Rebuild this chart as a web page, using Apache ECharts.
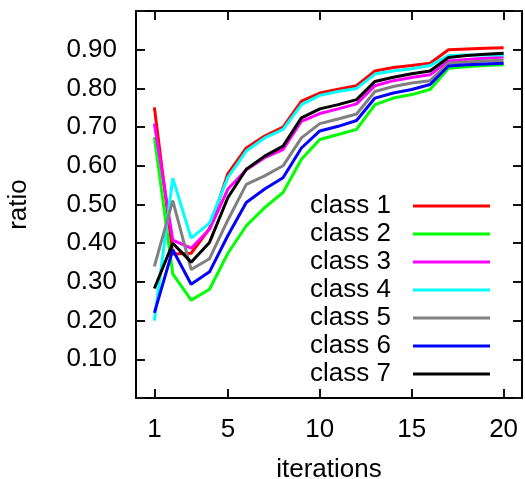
<!DOCTYPE html>
<html>
<head>
<meta charset="utf-8">
<script src="https://cdn.jsdelivr.net/npm/echarts@6/dist/echarts.min.js"></script>
<style>
  html, body { margin: 0; padding: 0; background: #fff; }
  #chart { width: 525px; height: 479px; }
</style>
</head>
<body>
<div id="chart"></div>
<script>
// x axis slots 0..21, points sit on 1..20
const xSlots = ['0', '1', '2', '3', '4', '5', '6', '7', '8', '9', '10', '11', '12', '13', '14', '15', '16', '17', '18', '19', '20', '21'];
const iterations = [1, 2, 3, 4, 5, 6, 7, 8, 9, 10, 11, 12, 13, 14, 15, 16, 17, 18, 19, 20];
const xTicks = [1, 5, 10, 15, 20];

const class1 = [0.751, 0.372, 0.374, 0.438, 0.580, 0.646, 0.677, 0.700, 0.767, 0.788, 0.798, 0.807, 0.845, 0.854, 0.859, 0.865, 0.900, 0.902, 0.904, 0.905];
const class2 = [0.674, 0.321, 0.253, 0.281, 0.374, 0.445, 0.492, 0.531, 0.617, 0.668, 0.681, 0.694, 0.758, 0.775, 0.784, 0.797, 0.852, 0.856, 0.859, 0.861];
const class3 = [0.709, 0.408, 0.387, 0.436, 0.540, 0.590, 0.621, 0.642, 0.715, 0.735, 0.747, 0.760, 0.807, 0.820, 0.828, 0.835, 0.871, 0.875, 0.878, 0.881];
const class4 = [0.200, 0.568, 0.413, 0.452, 0.570, 0.638, 0.672, 0.694, 0.758, 0.782, 0.792, 0.800, 0.837, 0.845, 0.851, 0.859, 0.885, 0.886, 0.886, 0.886];
const class5 = [0.340, 0.510, 0.332, 0.360, 0.460, 0.552, 0.574, 0.600, 0.672, 0.709, 0.721, 0.734, 0.792, 0.805, 0.814, 0.820, 0.865, 0.868, 0.871, 0.873];
const class6 = [0.220, 0.383, 0.294, 0.326, 0.420, 0.505, 0.540, 0.569, 0.646, 0.690, 0.702, 0.717, 0.775, 0.788, 0.797, 0.810, 0.858, 0.861, 0.863, 0.865];
const class7 = [0.283, 0.400, 0.351, 0.402, 0.518, 0.591, 0.625, 0.651, 0.724, 0.747, 0.758, 0.771, 0.818, 0.829, 0.838, 0.845, 0.880, 0.885, 0.888, 0.891];

const names = ['class 1', 'class 2', 'class 3', 'class 4', 'class 5', 'class 6', 'class 7'];
const values = [class1, class2, class3, class4, class5, class6, class7];
const colors = ['#ff0000', '#00ff00', '#ff00ff', '#00ffff', '#808080', '#0000ff', '#000000'];

const font = 'Liberation Sans, Arial, sans-serif';

let chart = echarts.init(document.getElementById('chart'));

const showTick = (idx) => xTicks.indexOf(idx) >= 0;
const yLabel = v => (v > 0.05 && v < 0.95) ? v.toFixed(2) : '';

let option = {
    animation: false,
    grid: { left: 136, right: 3, top: 11, bottom: 81, outerBoundsMode: 'none' },
    legend: {
        data: names,
        orient: 'vertical',
        right: 30,
        top: 187,
        align: 'right',
        icon: 'rect',
        itemWidth: 77,
        itemHeight: 3,
        itemGap: 0,
        textStyle: { fontFamily: font, fontSize: 26, color: '#000', lineHeight: 28, padding: [0, 17, 0, 0] }
    },
    xAxis: [
        {
            type: 'category',
            data: xSlots,
            boundaryGap: false,
            name: 'iterations',
            nameLocation: 'middle',
            nameGap: 59,
            nameTextStyle: { fontFamily: font, fontSize: 26, color: '#000' },
            axisLine: { show: true, onZero: false, lineStyle: { color: '#000', width: 2 } },
            axisTick: { show: true, inside: true, length: 9, interval: showTick, lineStyle: { color: '#111', width: 2, opacity: 1 } },
            axisLabel: { interval: showTick, margin: 19, fontFamily: font, fontSize: 26, color: '#000' }
        },
        {
            type: 'category',
            data: xSlots,
            boundaryGap: false,
            position: 'top',
            axisLine: { show: true, onZero: false, lineStyle: { color: '#000', width: 2 } },
            axisTick: { show: true, inside: true, length: 9, interval: showTick, lineStyle: { color: '#111', width: 2, opacity: 1 } },
            axisLabel: { show: false }
        }
    ],
    yAxis: [
        {
            type: 'value',
            min: 0,
            max: 1,
            interval: 0.1,
            name: 'ratio',
            nameLocation: 'middle',
            nameGap: 104,
            nameTextStyle: { fontFamily: font, fontSize: 26, color: '#000' },
            axisLine: { show: true, onZero: false, lineStyle: { color: '#000', width: 2 } },
            axisTick: { show: true, inside: true, length: 9, lineStyle: { color: '#111', width: 2, opacity: 1 } },
            axisLabel: { margin: 19, fontFamily: font, fontSize: 26, color: '#000', formatter: yLabel },
            splitLine: { show: false }
        },
        {
            type: 'value',
            position: 'right',
            min: 0,
            max: 1,
            interval: 0.1,
            axisLine: { show: true, onZero: false, lineStyle: { color: '#000', width: 2 } },
            axisTick: { show: true, inside: true, length: 9, lineStyle: { color: '#111', width: 2, opacity: 1 } },
            axisLabel: { show: false },
            splitLine: { show: false }
        }
    ],
    series: names.map((n, i) => ({
        name: n,
        type: 'line',
        data: iterations.map((x, j) => [x, values[i][j]]),
        showSymbol: false,
        lineStyle: { width: 3, color: colors[i] },
        itemStyle: { color: colors[i] }
    }))
};

chart.setOption(option);
</script>
</body>
</html>
